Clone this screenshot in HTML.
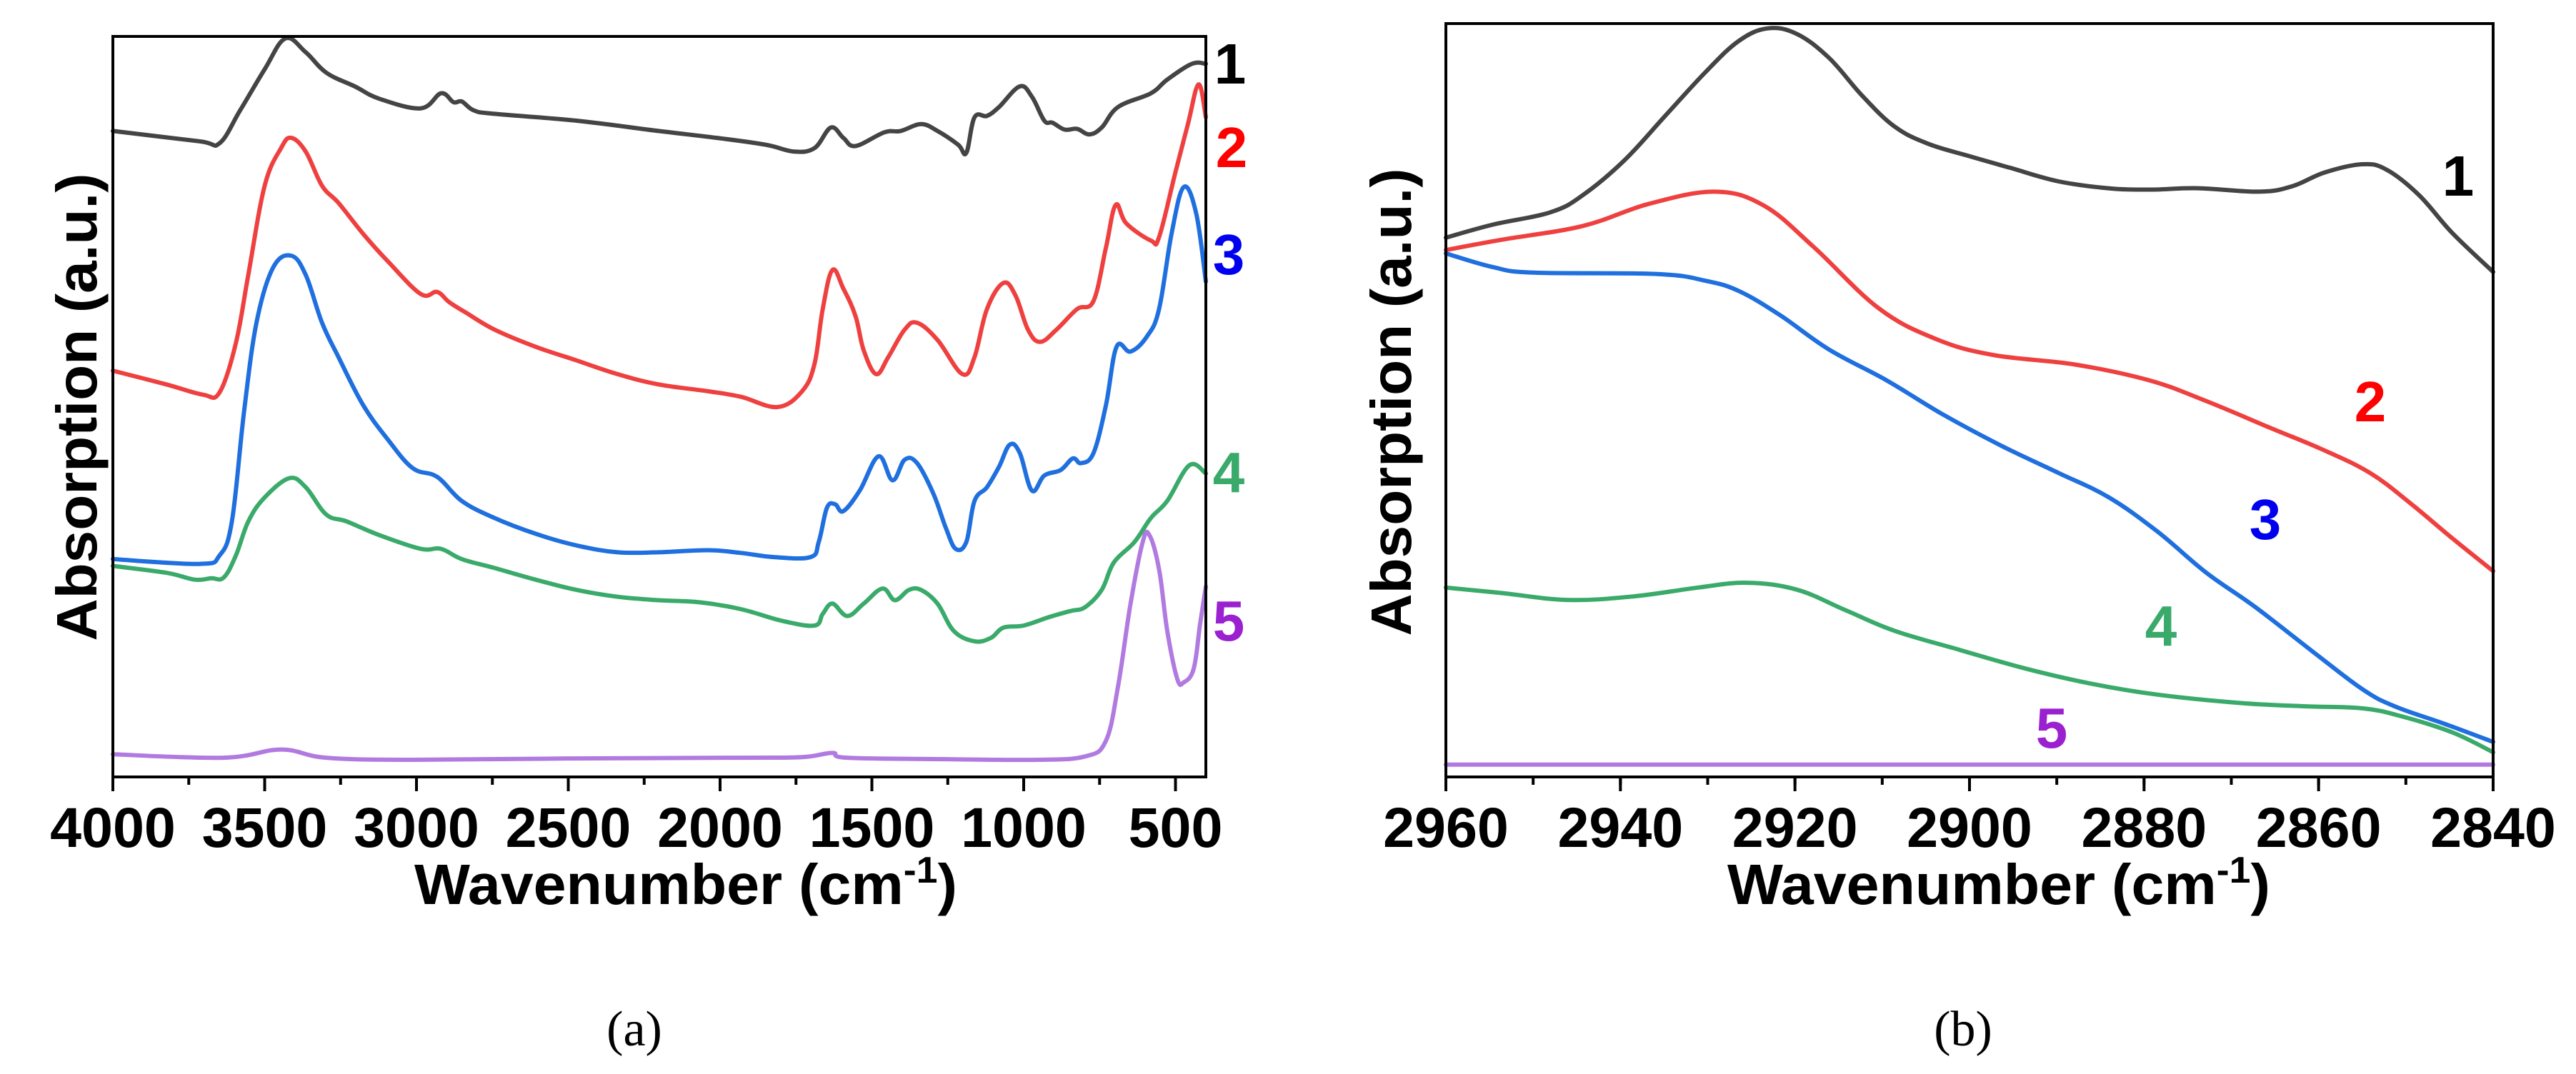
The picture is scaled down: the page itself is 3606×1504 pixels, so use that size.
<!DOCTYPE html>
<html><head><meta charset="utf-8"><style>
html,body{margin:0;padding:0;background:#fff;}
svg{display:block;font-family:"Liberation Sans",Arial,sans-serif;}
</style></head><body>
<svg id="fig" width="3606" height="1504" viewBox="0 0 3606 1504" xmlns="http://www.w3.org/2000/svg"></svg>
<script>
// ---------- Panel (a) data: wavenumber (cm-1) and absorption (a.u.) ----------
const aWn1=[4000,3716,3649,3581,3500,3432,3365,3297,3203,3122,2986,2919,2878,2851,2811,2743,2473,2203,2013,1851,1757,1689,1635,1594,1554,1459,1405,1338,1284,1216,1189,1162,1121,1081,1013,973,932,905,865,824,784,743,689,581,527,446,400];
const aAbs1=[943,928,925,973,1033,1078,1058,1028,1008,990,976,998,985,986,973,968,958,943,933,923,913,918,948,933,921,941,943,953,943,923,911,963,965,978,1008,993,958,955,945,946,938,948,978,998,1018,1041,1041];
const aWn2=[4000,3824,3703,3649,3595,3554,3500,3446,3413,3365,3311,3257,3176,3095,2986,2932,2892,2838,2743,2608,2473,2338,2203,2040,1932,1811,1730,1689,1662,1630,1594,1554,1527,1486,1446,1392,1351,1284,1202,1162,1121,1067,1027,986,946,892,824,770,729,697,662,581,554,500,459,424,400];
const aAbs2=[593,573,558,561,633,733,863,918,933,913,863,838,793,753,705,708,693,678,653,628,608,588,573,563,555,540,563,603,683,740,713,673,623,588,613,653,663,638,588,613,683,721,703,653,635,653,683,695,773,835,808,783,788,883,953,1011,963];
const aWn3=[4000,3716,3649,3608,3568,3527,3473,3413,3365,3311,3257,3176,3095,3013,2932,2851,2743,2608,2473,2338,2203,2040,1932,1824,1702,1675,1648,1621,1594,1540,1478,1432,1392,1351,1297,1256,1224,1189,1162,1121,1081,1046,1013,973,932,878,838,811,770,729,694,648,594,554,513,473,432,400];
const aAbs3=[318,311,323,373,533,663,743,761,733,663,613,543,493,451,438,403,378,355,338,328,328,331,327,321,321,343,393,398,388,418,468,433,463,458,413,363,333,343,403,423,453,485,473,418,440,448,465,458,473,543,628,621,643,683,793,861,823,723];
const aWn4=[4000,3824,3730,3676,3635,3595,3554,3500,3419,3365,3297,3230,3122,2986,2919,2851,2743,2608,2473,2338,2203,2068,1932,1797,1689,1662,1630,1581,1527,1465,1424,1378,1338,1284,1230,1162,1108,1067,1000,919,865,838,797,743,703,635,581,527,454,400];
const aAbs4=[308,298,288,290,291,323,373,408,436,423,383,373,353,333,333,318,305,288,273,263,258,255,245,228,221,238,253,235,253,275,258,273,273,253,213,198,203,218,221,233,240,243,248,273,313,343,378,403,455,443];
const aWn5=[4000,3635,3446,3297,3013,2473,1932,1730,1630,1581,1257,959,797,729,689,648,608,586,554,527,494,473,440,419,400];
const aAbs5=[33,28,40,28,25,27,28,29,35,28,26,25,30,53,133,253,343,353,303,213,143,138,158,223,278];
const aTicks=[4000,3500,3000,2500,2000,1500,1000,500];
const aTickLabels=["4000","3500","3000","2500","2000","1500","1000","500"];

// ---------- Panel (b) data ----------
const bWn1=[2960,2954.6,2948.0,2944.3,2939.6,2934.9,2930.2,2926.4,2923.1,2919.8,2916.1,2912.3,2908.6,2904.8,2900.1,2895.4,2889.8,2884.1,2879.4,2873.8,2866.8,2863.0,2859.3,2855.0,2852.2,2848.5,2844.7,2840];
const bAbs1=[786,805,823,848,898,963,1028,1073,1091,1083,1048,993,948,923,905,888,868,858,856,858,853,861,881,893,885,848,793,736];
const bWn2=[2960,2953.6,2944.3,2936.8,2929.2,2923.6,2917.9,2910.4,2903.8,2897.3,2887.9,2879.4,2872.9,2865.4,2859.7,2854.1,2849.4,2844.7,2840];
const bAbs2=[768,783,803,835,853,833,773,683,638,615,601,578,548,508,478,443,398,348,300];
const bWn3=[2960,2954.6,2949.9,2935.8,2930.2,2926.4,2921.7,2916.1,2909.5,2903.0,2896.4,2889.8,2884.1,2878.5,2872.9,2867.3,2860.7,2855.0,2851.3,2845.7,2840];
const bAbs3=[763,743,735,733,723,708,673,623,578,528,483,443,408,358,298,248,183,128,103,78,51];
const bWn4=[2960,2953.6,2946.1,2938.6,2931.1,2925.5,2919.8,2914.2,2908.6,2901.1,2893.6,2886.1,2878.5,2869.2,2861.7,2855.0,2850.4,2844.7,2840];
const bAbs4=[276,268,258,263,276,283,273,243,213,185,158,136,120,108,103,100,88,65,36];
const bWn5=[2960,2900,2840];
const bAbs5=[18,18,18];
const bTicks=[2960,2940,2920,2900,2880,2860,2840];
const bTickLabels=["2960","2940","2920","2900","2880","2860","2840"];

const NS="http://www.w3.org/2000/svg";
const svg=document.getElementById('fig');
function mk(tag,attrs,parent){const e=document.createElementNS(NS,tag);for(const k in attrs)e.setAttribute(k,attrs[k]);(parent||svg).appendChild(e);return e;}
function lin(d0,d1,r0,r1){return v=>r0+(v-d0)*(r1-r0)/(d1-d0);}
function smoothPath(pts){
  let d='M'+pts[0][0].toFixed(1)+' '+pts[0][1].toFixed(1);
  for(let i=0;i<pts.length-1;i++){
    const p0=pts[Math.max(0,i-1)],p1=pts[i],p2=pts[i+1],p3=pts[Math.min(pts.length-1,i+2)];
    const t=0.18;
    const c1=[p1[0]+(p2[0]-p0[0])*t,p1[1]+(p2[1]-p0[1])*t];
    const c2=[p2[0]-(p3[0]-p1[0])*t,p2[1]-(p3[1]-p1[1])*t];
    d+='C'+c1[0].toFixed(1)+' '+c1[1].toFixed(1)+' '+c2[0].toFixed(1)+' '+c2[1].toFixed(1)+' '+p2[0].toFixed(1)+' '+p2[1].toFixed(1);
  }
  return d;
}

function panel(cfg){
  const g=mk('g',{});
  
  
  const X=lin(cfg.xd[0],cfg.xd[1],cfg.L,cfg.R), Y=lin(cfg.yd[0],cfg.yd[1],cfg.B,cfg.T);
  cfg.series.forEach(s=>{
    const pts=s.wn.map((w,i)=>[X(w),Y(s.ab[i])]);
    const p=mk('path',{d:smoothPath(pts),fill:'none',stroke:s.color,'stroke-width':6,'stroke-linejoin':'round','stroke-linecap':'round'},g);
    
    
  });
  for(let v=cfg.xd[0];cfg.xd[0]>cfg.xd[1]?v>=cfg.xd[1]:v<=cfg.xd[1];v-=cfg.minor){
    const t=mk('line',{x1:X(v),x2:X(v),y1:cfg.B,y2:cfg.B+11,stroke:'#000','stroke-width':4},g);
    
    
  }
  cfg.ticks.forEach((v,i)=>{
    const t=mk('line',{x1:X(v),x2:X(v),y1:cfg.B,y2:cfg.B+20,stroke:'#000','stroke-width':4},g);
    
    
    const tx=mk('text',{x:X(v),y:1186,'text-anchor':'middle','font-size':79,'font-weight':'bold',fill:'#000'},g);
    tx.textContent=cfg.tickLabels[i];
    
    
  });
  const r=mk('rect',{x:cfg.L,y:cfg.T,width:cfg.R-cfg.L,height:cfg.B-cfg.T,fill:'none',stroke:'#000','stroke-width':4},g);
  
  
  const xt=mk('text',{x:cfg.xtX,y:1266,'text-anchor':'middle','font-size':80,'font-weight':'bold',fill:'#000',textLength:760,lengthAdjust:'spacingAndGlyphs'},g);
  xt.innerHTML='Wavenumber (cm<tspan dy="-30" font-size="52">-1</tspan><tspan dy="30">)</tspan>';
  
  
  const yt=mk('text',{x:0,y:0,'text-anchor':'middle','font-size':80,'font-weight':'bold',fill:'#000',textLength:655,lengthAdjust:'spacingAndGlyphs',transform:`translate(${cfg.ytX},${cfg.ytY}) rotate(-90)`},g);
  yt.textContent='Absorption (a.u.)';
  
  
  cfg.labels.forEach(l=>{
    const t=mk('text',{x:l.x,y:l.y+29,'text-anchor':'middle','font-size':80,'font-weight':'bold',fill:l.c},g);
    t.textContent=l.t;
    
    
  });
  const cap=mk('text',{x:cfg.capX,y:1464,'text-anchor':'middle','font-size':70,fill:'#000','font-family':'"Liberation Serif",serif'},g);
  cap.textContent=cfg.cap;
  
  
}

const C1='#444444',C2='#ef4040',C3='#1f6fdf',C4='#3aaa6a',C5='#b07ae0';
panel({name:'panel-a',L:158,R:1688,T:51,B:1088,xd:[4000,400],yd:[0,1081],minor:250,ticks:aTicks,tickLabels:aTickLabels,
  xtX:960,ytX:135,ytY:570,capX:888,cap:'(a)',
  series:[{name:'spectrum-1',wn:aWn1,ab:aAbs1,color:C1},{name:'spectrum-2',wn:aWn2,ab:aAbs2,color:C2},{name:'spectrum-3',wn:aWn3,ab:aAbs3,color:C3},{name:'spectrum-4',wn:aWn4,ab:aAbs4,color:C4},{name:'spectrum-5',wn:aWn5,ab:aAbs5,color:C5}],
  labels:[{t:'1',x:1722,y:88,c:'#000'},{t:'2',x:1724,y:205,c:'#ff0000'},{t:'3',x:1720,y:355,c:'#0000ee'},{t:'4',x:1720,y:660,c:'#3aaa6a'},{t:'5',x:1720,y:868,c:'#9a20d0'}]});
panel({name:'panel-b',L:2024,R:3490,T:33,B:1088,xd:[2960,2840],yd:[0,1098],minor:10,ticks:bTicks,tickLabels:bTickLabels,
  xtX:2798,ytX:1975,ytY:563,capX:2748,cap:'(b)',
  series:[{name:'spectrum-1',wn:bWn1,ab:bAbs1,color:C1},{name:'spectrum-2',wn:bWn2,ab:bAbs2,color:C2},{name:'spectrum-3',wn:bWn3,ab:bAbs3,color:C3},{name:'spectrum-4',wn:bWn4,ab:bAbs4,color:C4},{name:'spectrum-5',wn:bWn5,ab:bAbs5,color:C5}],
  labels:[{t:'1',x:3441,y:245,c:'#000'},{t:'2',x:3318,y:561,c:'#ff0000'},{t:'3',x:3171,y:726,c:'#0000ee'},{t:'4',x:3025,y:875,c:'#3aaa6a'},{t:'5',x:2872,y:1018,c:'#9a20d0'}]});
</script>
</body></html>
